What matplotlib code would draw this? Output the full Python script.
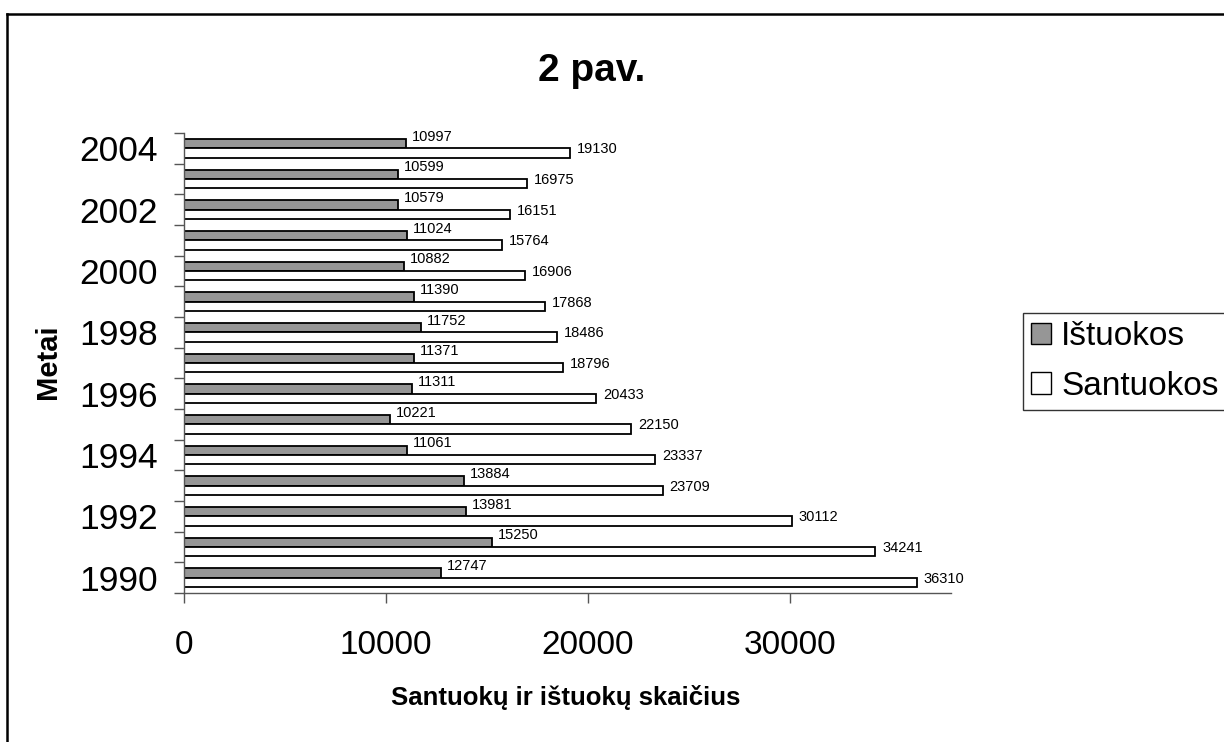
import matplotlib
matplotlib.use("Agg")
from matplotlib import pyplot as plt
from matplotlib.lines import Line2D
from matplotlib.patches import Patch
import numpy as np

years = list(range(1990, 2005))
istuokos = [12747, 15250, 13981, 13884, 11061, 10221, 11311, 11371,
            11752, 11390, 10882, 11024, 10579, 10599, 10997]
santuokos = [36310, 34241, 30112, 23709, 23337, 22150, 20433, 18796,
             18486, 17868, 16906, 15764, 16151, 16975, 19130]
xticks = [0, 10000, 20000, 30000]

plt.rcParams["font.family"] = ["Liberation Sans", "DejaVu Sans"]

W, H = 1224, 742
fig = plt.figure(figsize=(W / 100, H / 100), dpi=100)
ax = fig.add_axes([184 / W, 1 - 593 / H, (951 - 184) / W, (593 - 133) / H])

pos = np.arange(len(years))
h = 0.30
gray = "#969696"
ax.barh(pos + h / 2, istuokos, height=h, color=gray, edgecolor="black", linewidth=1.3)
ax.barh(pos - h / 2, santuokos, height=h, color="white", edgecolor="black", linewidth=1.3)

for p, v in zip(pos, istuokos):
    ax.annotate(str(v), (v, p + h / 2), xytext=(4.3, 5.0), textcoords="offset points",
                va="center", ha="left", fontsize=10.5)
for p, v in zip(pos, santuokos):
    ax.annotate(str(v), (v, p - h / 2), xytext=(5, 2.6), textcoords="offset points",
                va="center", ha="left", fontsize=10.5)

ax.set_xlim(0, 38000)
ax.set_ylim(-0.5, len(years) - 0.5)
ax.set_xticks(xticks)
ax.set_xticklabels([str(t) for t in xticks], fontsize=24)
ax.tick_params(axis="x", direction="out", length=7, width=1, color="#555555", pad=20)

even = [i for i, y in enumerate(years) if y % 2 == 0]
ax.set_yticks(even)
ax.set_yticklabels([str(years[i]) for i in even], fontsize=25.5)
ax.set_yticks(np.arange(-0.5, len(years)), minor=True)
ax.tick_params(axis="y", which="major", length=0, pad=19)
ax.tick_params(axis="y", which="minor", direction="out", length=7, width=1, color="#555555")

for s in ["top", "right"]:
    ax.spines[s].set_visible(False)
for s in ["left", "bottom"]:
    ax.spines[s].set_color("#555555")
    ax.spines[s].set_linewidth(1)

fig.text(566 / W, 1 - 698 / H, "Santuokų ir ištuokų skaičius", fontsize=18.5,
         fontweight="bold", ha="center", va="center")
fig.text(48 / W, 1 - 362 / H, "Metai", fontsize=21, fontweight="bold",
         rotation=90, ha="center", va="center")
fig.text(592 / W, 1 - 71 / H, "2 pav.", fontsize=28, fontweight="bold",
         ha="center", va="center")

handles = [Patch(facecolor=gray, edgecolor="black", label="Ištuokos"),
           Patch(facecolor="white", edgecolor="black", label="Santuokos")]
leg = fig.legend(handles=handles, loc="upper left", bbox_to_anchor=(1023 / W, 1 - 313 / H),
                 fontsize=24, frameon=True, fancybox=False, handlelength=0.6,
                 handleheight=0.6, handletextpad=0.3, borderpad=0.25, labelspacing=0.55,
                 borderaxespad=0)
leg.get_frame().set_edgecolor("black")
leg.get_frame().set_linewidth(1)

# outer chart border (only left and top visible in the crop)
fig.add_artist(Line2D([7 / W, 7 / W], [0, 1 - 14 / H], color="black", lw=1.8))
fig.add_artist(Line2D([7 / W, 1], [1 - 14 / H, 1 - 14 / H], color="black", lw=1.8))

fig.savefig("out.png", dpi=100)
